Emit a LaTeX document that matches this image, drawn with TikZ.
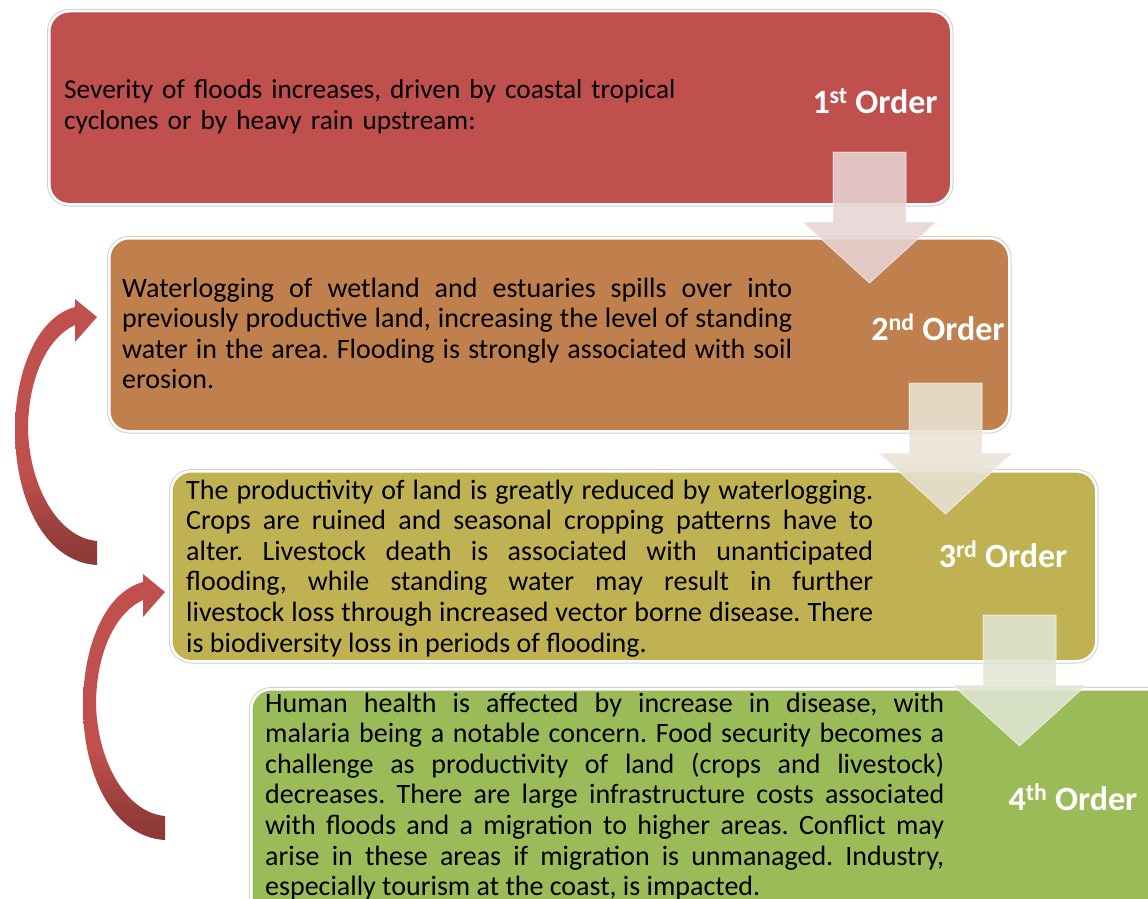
\documentclass[tikz,border=0pt]{standalone}
\usepackage{fontspec}
\setmainfont{Carlito}
\definecolor{cA}{RGB}{192,80,77}
\definecolor{cB}{RGB}{192,128,77}
\definecolor{cC}{RGB}{192,178,82}
\definecolor{cD}{RGB}{155,187,89}
\definecolor{cAdark}{RGB}{138,56,54}
\definecolor{tA}{RGB}{231,212,212}
\definecolor{tB}{RGB}{232,226,212}
\definecolor{tC}{RGB}{224,230,212}
\pgfdeclareverticalshading{curvshade}{100bp}{color(0bp)=(cAdark); color(25bp)=(cAdark); color(30bp)=(cAdark!80!cA); color(42bp)=(cA); color(100bp)=(cA)}
\newcommand\flowarrow[3]{%
  \fill[#3, opacity=0.88, draw=white, draw opacity=0.5, line width=1pt]
    ({#1-36.5},#2) -- ({#1+36.5},#2) -- ({#1+36.5},{#2+70}) -- ({#1+67},{#2+70})
    -- (#1,{#2+131}) -- ({#1-67},{#2+70}) -- ({#1-36.5},{#2+70}) -- cycle;}
\newcommand\curvedarrow[2]{%
  \begin{scope}[shift={(#1,#2)}]
  \shade[shading=curvshade]
    (75,307) .. controls (35,318) and (15,375) .. (15,430)
    .. controls (15,500) and (45,562) .. (97,565) -- (97,541)
    .. controls (60,538) and (30,490) .. (28,430)
    .. controls (28,382) and (45,339) .. (75,325)
    -- (75,342) -- (97,317) -- (75,299) -- cycle;
  \end{scope}}
\begin{document}
\frenchspacing
\begin{tikzpicture}[x=1pt,y=-1pt,
  box/.style={rounded corners=20pt, draw=white, line width=2.5pt, inner sep=0pt,
    anchor=north west, preaction={draw=black!18, line width=4.5pt}},
  txt/.style={inner sep=0pt, anchor=base west, align=justify, font=\fontsize{28}{30.6}\selectfont\frenchspacing, text=black},
  order/.style={inner sep=0pt, anchor=base, font=\fontsize{34}{36}\selectfont\bfseries, text=white}]
\useasboundingbox (0,0) rectangle (1148,899);
\clip (0,0) rectangle (1148,899);
\node[box, fill=cA, minimum width=902pt, minimum height=193pt] (b1) at (48,10) {};
\node[box, fill=cB, minimum width=900pt, minimum height=193pt] (b2) at (108,237) {};
\node[box, fill=cC, minimum width=925pt, minimum height=190pt] (b3) at (170,470) {};
\node[box, fill=cD, minimum width=960pt, minimum height=240pt] (b4) at (250,688) {};

\flowarrow{869.5}{152}{tA}
\flowarrow{945.5}{383}{tB}
\flowarrow{1019.5}{615}{tC}

\curvedarrow{0}{0}
\curvedarrow{68}{275}

\node[txt, align=left, text width=700pt, font=\fontsize{27.3}{30.6}\selectfont] (t1) at (64,99)
  {Severity of floods increases, driven by coastal tropical\\cyclones or by heavy rain upstream:};
\node[txt, text width=670pt] (t2) at (122,297)
  {Waterlogging of wetland and estuaries spills over into\linebreak
   previously productive land, increasing the level of standing\linebreak
   water in the area. Flooding is strongly associated with soil\linebreak
   erosion.};
\node[txt, text width=687pt] (t3) at (186,499)
  {The productivity of land is greatly reduced by waterlogging.\linebreak
   Crops are ruined and seasonal cropping patterns have to\linebreak
   alter. Livestock death is associated with unanticipated\linebreak
   flooding, while standing water may result in further\linebreak
   livestock loss through increased vector borne disease. There\linebreak
   is biodiversity loss in periods of flooding.};
\node[txt, text width=679pt] (t4) at (265,712)
  {Human health is affected by increase in disease, with\linebreak
   malaria being a notable concern. Food security becomes a\linebreak
   challenge as productivity of land (crops and livestock)\linebreak
   decreases. There are large infrastructure costs associated\linebreak
   with floods and a migration to higher areas. Conflict may\linebreak
   arise in these areas if migration is unmanaged. Industry,\linebreak
   especially tourism at the coast, is impacted.};

\node[order] (o1) at (875,113) {1\textsuperscript{st} Order};
\node[order] (o2) at (938,340) {2\textsuperscript{nd} Order};
\node[order] (o3) at (1003,567) {3\textsuperscript{rd} Order};
\node[order] (o4) at (1073,810) {4\textsuperscript{th} Order};
\end{tikzpicture}
\end{document}
